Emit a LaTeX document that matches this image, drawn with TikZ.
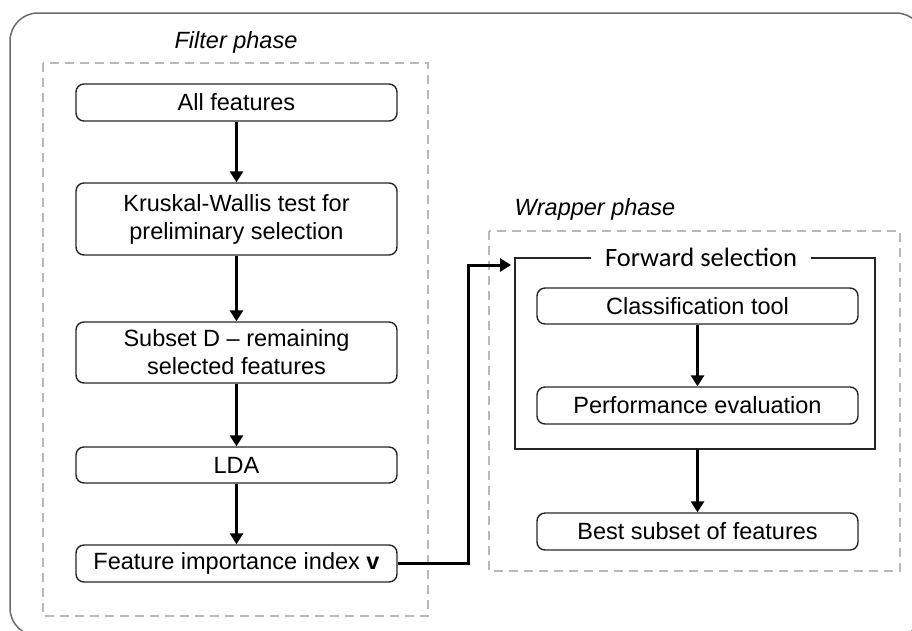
\documentclass[tikz,border=0pt]{standalone}
\usepackage{fontspec}
\setmainfont{Liberation Sans}
\newfontfamily\calib{Carlito}
\usetikzlibrary{arrows.meta,calc}
\begin{document}
\begin{tikzpicture}[x=1pt,y=-1pt,
  box/.style={draw=black!85,line width=1.4pt,rounded corners=8pt,align=center,
    inner sep=0pt,font=\fontsize{23.5}{28}\selectfont},
  flow/.style={line width=3pt,-{Triangle[width=13pt,length=11pt]}},
  phase/.style={draw=black!28,line width=1.5pt,dash pattern=on 9pt off 6pt},
  lbl/.style={font=\fontsize{23.5}{28}\selectfont\itshape,inner sep=0pt}]
\useasboundingbox (0,0) rectangle (912,630);
\begin{scope}
\clip (0,0) rectangle (912,630);
\draw[black!58,line width=1.5pt,rounded corners=28pt] (10,13) rectangle (924,636);
\end{scope}
% filter phase
\node[lbl] (fp) at (236,42) {Filter phase};
\draw[phase] (43,63) rectangle (428,616);
\node[box,minimum width=321pt,minimum height=37pt] (af) at (236.5,102.5) {All features};
\node[box,minimum width=321pt,minimum height=72pt] (kw) at (236.5,219) {Kruskal-Wallis test for\\preliminary selection};
\node[box,minimum width=321pt,minimum height=61pt] (sd) at (236.5,352.5) {Subset D -- remaining\\selected features};
\node[box,minimum width=321pt,minimum height=36pt] (lda) at (236.5,465) {LDA};
\node[box,minimum width=321pt,minimum height=37pt] (fi) at (236.5,563.5) {Feature importance index \textbf{v}};
\draw[flow] (af) -- (kw);
\draw[flow] (kw) -- (sd);
\draw[flow] (sd) -- (lda);
\draw[flow] (lda) -- (fi);
% wrapper phase
\node[lbl] (wp) at (595,209) {Wrapper phase};
\draw[phase] (489,231) rectangle (900,571);
\coordinate (fsnw) at (515,258);
\coordinate (fsse) at (875,449);
\draw[black!85,line width=1.5pt] (fsnw) rectangle (fsse);
\node[fill=white,inner xsep=14pt,inner ysep=2pt,font=\calib\fontsize{26.5}{30}\selectfont] (fs) at (701,257) {Forward selection};
\node[box,minimum width=321pt,minimum height=36pt] (ct) at (697.5,306) {Classification tool};
\node[box,minimum width=321pt,minimum height=37pt] (pe) at (697.5,405.5) {Performance evaluation};
\node[box,minimum width=321pt,minimum height=37pt] (bs) at (697.5,531.5) {Best subset of features};
\coordinate (fsb) at (697.5,449);
\draw[flow] (ct) -- (pe);
\draw[flow] (fsb) -- (bs);
\coordinate (entry) at (511,265);
\coordinate (turn) at (468,265);
\draw[line width=3pt,-{Triangle[width=13pt,length=11pt]}] (fi.east) -| (turn) -- (entry);
\end{tikzpicture}
\end{document}
